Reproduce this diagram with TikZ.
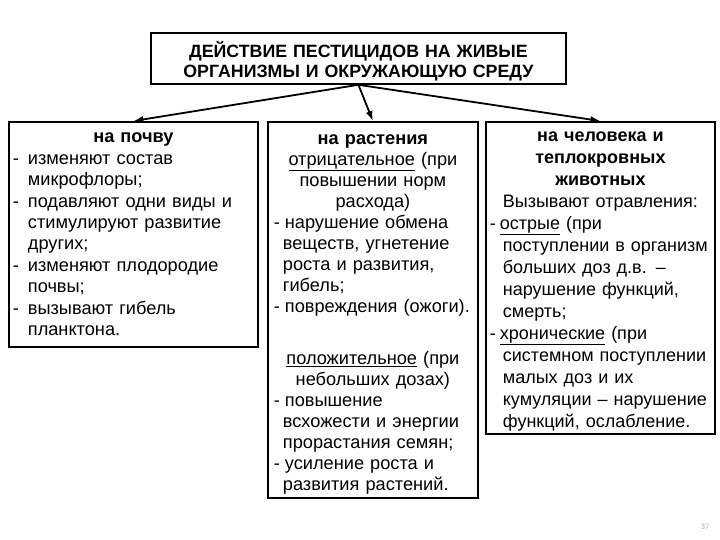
\documentclass[tikz,border=0pt]{standalone}
\usepackage{fontspec}
\setmainfont{Liberation Sans}
\usetikzlibrary{arrows.meta}

% item line and its continuation
\newcommand{\li}[2][15bp]{\makebox[#1][l]{-}#2}
\newcommand{\lc}[2][15bp]{\hspace*{#1}#2}

\begin{document}
\begin{tikzpicture}[x=1bp,y=-1bp,
    box/.style={draw,line width=1.8bp,anchor=north west,inner sep=0pt,align=left},
    arr/.style={line width=1.8bp,-{Latex[length=10bp,width=7bp]}}]
      \useasboundingbox (0,0) rectangle (720,540);
      \node[box,minimum width=415bp,minimum height=51bp,text width=405bp,
        font=\fontsize{17.8bp}{20bp}\selectfont\bfseries,align=center] (title) at (150,32)
        {\rule{0pt}{21bp}ДЕЙСТВИЕ ПЕСТИЦИДОВ НА ЖИВЫЕ\\ОРГАНИЗМЫ И ОКРУЖАЮЩУЮ СРЕДУ};
      \node[box,minimum width=249bp,minimum height=225bp,text width=241bp,
        font=\fontsize{18.2bp}{21.4bp}\selectfont] (soil) at (8,121)
        {{\centering\bfseries на почву\par}
         \li{изменяют состав}\\
         \lc{микрофлоры;}\\
         \li{подавляют одни виды и}\\
         \lc{стимулируют развитие}\\
         \lc{других;}\\
         \li{изменяют плодородие}\\
         \lc{почвы;}\\
         \li{вызывают гибель}\\
         \lc{планктона.}};
      \node[box,minimum width=210bp,minimum height=376bp,text width=198bp,
        font=\fontsize{18.2bp}{21bp}\selectfont] (plants) at (267,121)
        {{\centering\bfseries\rule{0pt}{19bp}на растения\par}
         {\centering\underline{отрицательное} (при\\повышении норм\\расхода)\par}
         \li[11bp]{нарушение обмена}\\
         \lc[9bp]{веществ, угнетение}\\
         \lc[9bp]{роста и развития,}\\
         \lc[9bp]{гибель;}\\
         \li[11bp]{повреждения (ожоги).}\par
         \vspace{31bp}
         {\centering\underline{положительное} (при\\небольших дозах)\par}
         \li[11bp]{повышение}\\
         \lc[9bp]{всхожести и энергии}\\
         \lc[9bp]{прорастания семян;}\\
         \li[11bp]{усиление роста и}\\
         \lc[9bp]{развития растений.}};
      \node[box,minimum width=229bp,minimum height=312bp,text width=221bp,
        font=\fontsize{18bp}{22bp}\selectfont] (human) at (485,121)
        {{\centering\bfseries\rule{0pt}{16bp}на человека и\\теплокровных\\животных\par}
         {\centering Вызывают отравления:\par}
         \li[10bp]{\underline{острые} (при}\\
         \lc[13bp]{поступлении в организм}\\
         \lc[13bp]{больших доз д.в. –}\\
         \lc[13bp]{нарушение функций,}\\
         \lc[13bp]{смерть;}\\
         \li[10bp]{\underline{хронические} (при}\\
         \lc[13bp]{системном поступлении}\\
         \lc[13bp]{малых доз и их}\\
         \lc[13bp]{кумуляции – нарушение}\\
         \lc[13bp]{функций, ослабление.}};
      \draw[arr] (title.south) -- (soil.north);
      \draw[arr] (title.south) -- (plants.north);
      \draw[arr] (title.south) -- (human.north);
      \node[text=gray!60,font=\fontsize{8bp}{9bp}\selectfont] (page) at (705,527) {37};
    \end{tikzpicture}
\end{document}
